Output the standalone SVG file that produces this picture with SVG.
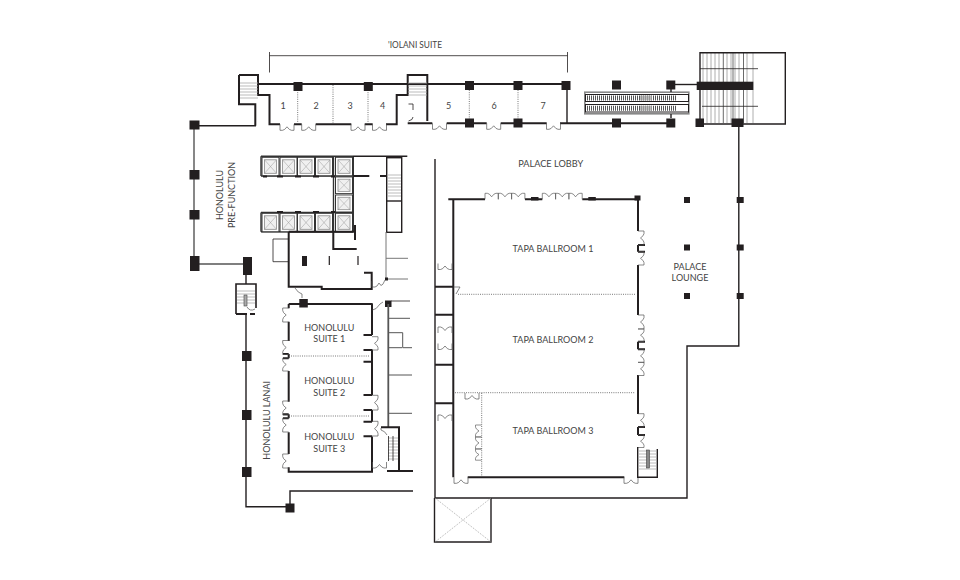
<svg xmlns="http://www.w3.org/2000/svg" xmlns:xlink="http://www.w3.org/1999/xlink" width="960" height="580" viewBox="0 0 960 580">
<style>
text{font-family:Lato,"Liberation Sans",Arial,sans-serif;font-size:9px;fill:#444;text-anchor:middle}
.w{fill:none;stroke:#231f20;stroke-width:2}
.m{fill:none;stroke:#231f20;stroke-width:1.4}
.t{fill:none;stroke:#231f20;stroke-width:.8}
.g{fill:none;stroke:#777;stroke-width:1}
.lg{fill:none;stroke:#aaa;stroke-width:.8}
.d{fill:none;stroke:#555;stroke-width:.8;stroke-dasharray:1 1.2}
.c{fill:#231f20}
.door{fill:none;stroke:#555;stroke-width:.7}
.el{fill:#fff;stroke:#333;stroke-width:1}
.in{fill:#f0f0f0;stroke:#888;stroke-width:.8}
.x{fill:none;stroke:#999;stroke-width:.5}
</style>
<defs>
<path id="door" class="door" d="M0 0V6H2.5Q4.5 6 7 2.5Q9.5 6 11.5 6H14V0"/>
<g id="elev"><rect class="el" x="0.500" y="0.500" width="17" height="18.500"/><rect class="in" x="3" y="3" width="12" height="13.500"/><path class="x" d="M3 3L15 16.500M15 3L3 16.500"/></g>
</defs>

<g id="iolani-suite">
<path class="t" d="M269.500 52V72.500M269.500 55.700H567.500M567.500 52V72.500"/>
<path class="w" d="M258 84H567"/>
<path class="w" d="M239 75H258V95H269.500V124.300H280M294 124.300H301.700M315.700 124.300H351.300M364.700 124.300H372.700M386 124.300H396.700V95H407.700V75H427.300V121M407.700 123.300H432.300M446.700 123.300H486.700M500.700 123.300H546.700M560 123.300H671"/>
<path class="w" d="M239 75V104.300H255.300V125.700"/>
<path class="m" d="M567 84V124"/>
<path class="d" d="M297.700 90V124M333 85V124M368 90V124M469.300 90V120M518 90V120"/>
<path class="lg" d="M240 83H258M240 86H258M240 89H258M240 92H258M240 95H258M240 98H258M408 83H427M408 86H427M408 89H427M408 92H427M408 95H427"/>
<path class="t" d="M413 110V104H408.500M408.500 121Q413 120 413 117"/>
<use xlink:href="#door" href="#door" x="280" y="124.300"/>
<use xlink:href="#door" href="#door" x="301.700" y="124.300"/>
<use xlink:href="#door" href="#door" x="351" y="124.300"/>
<use xlink:href="#door" href="#door" x="372.500" y="124.300"/>
<use xlink:href="#door" href="#door" x="432.500" y="123.300"/>
<use xlink:href="#door" href="#door" x="486.700" y="123.300"/>
<use xlink:href="#door" href="#door" x="546.500" y="123.300"/>
<rect class="c" x="293.500" y="82" width="9" height="9"/>
<rect class="c" x="363.800" y="82" width="9" height="9"/>
<rect class="c" x="465" y="81" width="9" height="9"/>
<rect class="c" x="513.500" y="81" width="9" height="9"/>
<rect class="c" x="561.500" y="81" width="9" height="9"/>
<rect class="c" x="465" y="118.500" width="9" height="9"/>
<rect class="c" x="513.500" y="118.500" width="9" height="9"/>
<text x="415" y="47.500" textLength="54" lengthAdjust="spacingAndGlyphs">'IOLANI SUITE</text>
<text x="283" y="109">1</text><text x="316" y="109">2</text><text x="350" y="109">3</text><text x="382.500" y="109">4</text><text x="448.700" y="109">5</text><text x="494" y="109">6</text><text x="543" y="109">7</text>
</g>

<g id="escalators">
<rect x="584.800" y="92.200" width="104" height="21.600" fill="#fff" stroke="#888" stroke-width="1.600"/>
<rect x="585.500" y="94.500" width="103" height="7" fill="#fff" stroke="#231f20" stroke-width="1"/>
<rect x="585.500" y="104.500" width="103" height="7.500" fill="#fff" stroke="#231f20" stroke-width="1"/>
<path stroke="#555" stroke-width="5" stroke-dasharray="1 1" fill="none" d="M587 98H677M587 108.200H677"/>
<path stroke="#aaa" stroke-opacity=".75" stroke-width="5" fill="none" d="M640 98H652M640 108.200H652"/>
<path class="m" d="M671 89V92M671 114V118"/>
<rect class="c" x="612" y="80.500" width="9" height="9"/>
<rect class="c" x="666.300" y="80.500" width="9" height="9"/>
<rect class="c" x="612" y="118.500" width="9" height="9"/>
<rect class="c" x="666.300" y="118.500" width="9" height="9"/>
<path class="m" d="M671 84.500H698"/>
</g>

<g id="grand-stair">
<path d="M703 53V123M707 53V123M711 53V123M715 53V123M719 53V123M727 53V123M731 53V123M735 53V123M739 53V123M747 53V123M753 53V123" fill="none" stroke="#999" stroke-width=".8"/>
<path d="M723.300 53V123M733 53V123M743.500 53V123" fill="none" stroke="#444" stroke-width=".8"/>
<path class="m" d="M700 124V52.700H785.300V124H700"/>
<path class="t" d="M700 68.700H758M702 106.300H758"/>
<rect class="c" x="696.700" y="81.700" width="56.600" height="8.300"/>
<rect class="c" x="695.500" y="118.500" width="8.500" height="8.500"/>
<rect class="c" x="731.500" y="118.500" width="12" height="8.500"/>
</g>

<g id="palace-lounge">
<path class="m" d="M738.800 124V346H687V498H435V159"/>
<rect class="c" x="736.700" y="197" width="7" height="6"/>
<rect class="c" x="736.700" y="244.500" width="7" height="6"/>
<rect class="c" x="736.700" y="293" width="7" height="6"/>
<rect class="c" x="684" y="197" width="6" height="6"/>
<rect class="c" x="684" y="244.500" width="6" height="6"/>
<rect class="c" x="684" y="293" width="6" height="6"/>
<text x="690" y="270">PALACE</text><text x="690" y="281">LOUNGE</text>
<text x="550.700" y="166.500" textLength="65" lengthAdjust="spacingAndGlyphs">PALACE LOBBY</text>
<path class="m" d="M434.500 498V542H491V498"/>
<path class="d" style="stroke:#999" d="M435 498L491 542M491 498L435 542"/>
</g>

<g id="tapa-ballroom">
<path class="w" d="M448.300 199.300H485M525 199.300H542.300M582.300 199.300H638V231M638 245V251.700M645 245H638M645 251.700H638M638 265V315M638 341.700V349.300M645 341.700H638M645 349.300H638M638 375V414M638 427V435M645 427H638M645 435H638M453.300 199.300V477.300"/>
<path class="w" d="M467.700 477.300H624.300"/>
<path class="w" d="M435 286.700H453M435 314.700H453M435 364.700H453M435 403.300H453"/>
<rect class="c" x="531" y="197" width="7.500" height="3.500"/>
<rect class="c" x="588.300" y="197" width="7.500" height="3.500"/>
<rect class="c" x="634.500" y="195.500" width="6" height="5"/>
<path class="d" d="M458 294.300H635M455 392.700H635M481.700 393V477"/>
<path class="door" d="M453.500 287H460L456 294"/>
<g transform="translate(485 199.300) scale(.95 -1)"><use xlink:href="#door" href="#door"/><use xlink:href="#door" href="#door" x="14"/><use xlink:href="#door" href="#door" x="28"/></g>
<g transform="translate(542.300 199.300) scale(.95 -1)"><use xlink:href="#door" href="#door"/><use xlink:href="#door" href="#door" x="14"/><use xlink:href="#door" href="#door" x="28"/></g>
<use xlink:href="#door" href="#door" transform="translate(638 245) rotate(-90)"/>
<use xlink:href="#door" href="#door" transform="translate(638 265) rotate(-90) scale(.95 1)"/>
<use xlink:href="#door" href="#door" transform="translate(638 329) rotate(-90)"/>
<use xlink:href="#door" href="#door" transform="translate(638 341.500) rotate(-90) scale(.9 1)"/>
<use xlink:href="#door" href="#door" transform="translate(638 362.500) rotate(-90) scale(.95 1)"/>
<use xlink:href="#door" href="#door" transform="translate(638 375.500) rotate(-90) scale(.95 1)"/>
<use xlink:href="#door" href="#door" transform="translate(638 427) rotate(-90) scale(.95 1)"/>
<use xlink:href="#door" href="#door" transform="translate(638 447.500) rotate(-90) scale(.9 1)"/>
<use xlink:href="#door" href="#door" x="454" y="477.300"/>
<use xlink:href="#door" href="#door" x="624" y="477.300"/>
<use xlink:href="#door" href="#door" transform="translate(465 393)"/>
<use xlink:href="#door" href="#door" transform="translate(481.500 425) rotate(90) scale(.85 1)"/>
<use xlink:href="#door" href="#door" transform="translate(481.500 437) rotate(90) scale(.85 1)"/>
<use xlink:href="#door" href="#door" transform="translate(481.500 449) rotate(90) scale(.8 1)"/>
<use xlink:href="#door" href="#door" transform="translate(438 263.500)"/>
<use xlink:href="#door" href="#door" transform="translate(438 333) scale(1 -1)"/>
<use xlink:href="#door" href="#door" transform="translate(438 343.500)"/>
<use xlink:href="#door" href="#door" transform="translate(438 421) scale(1 -1)"/>
<path class="m" d="M637.700 447V477.300H657.300V449"/>
<path class="lg" d="M638 451H657M638 454H657M638 457H657M638 460H657M638 463H657M638 466H657M638 469H657"/>
<rect x="646.500" y="450" width="3" height="18" fill="#888" stroke="#444" stroke-width=".6"/>
<text x="553" y="251.500">TAPA BALLROOM 1</text>
<text x="553" y="342.500">TAPA BALLROOM 2</text>
<text x="553" y="433.500">TAPA BALLROOM 3</text>
</g>

<g id="honolulu-prefunction">
<path class="m" d="M194 125.700H256"/>
<path class="m" d="M194 125V264H245" style="stroke:#555"/>
<rect class="c" x="189.500" y="120.500" width="10" height="9"/>
<rect class="c" x="189.500" y="170" width="10" height="9.500"/>
<rect class="c" x="189.500" y="210" width="10" height="9.500"/>
<rect class="c" x="190" y="256" width="9.500" height="15"/>
<rect class="c" x="243" y="257" width="9" height="18"/>
<text transform="translate(223 195) rotate(-90)">HONOLULU</text>
<text transform="translate(235 195) rotate(-90)">PRE-FUNCTION</text>
</g>

<g id="elevators">
<path d="M261 156.300H353M261 176H353M261 212.500H353M261 231.700H353M333.500 156.300V232M353.300 156.300V232M261 156.300V176M261 212.500V231.700" fill="none" stroke="#333" stroke-width="1.400"/>
<use xlink:href="#elev" href="#elev" x="261.500" y="156.800"/><use xlink:href="#elev" href="#elev" x="279.500" y="156.800"/><use xlink:href="#elev" href="#elev" x="297" y="156.800"/><use xlink:href="#elev" href="#elev" x="315" y="156.800"/><use xlink:href="#elev" href="#elev" x="335" y="156.800"/>
<use xlink:href="#elev" href="#elev" transform="translate(335 176.500) scale(1 .9)"/><use xlink:href="#elev" href="#elev" transform="translate(335 194.500) scale(1 .92)"/><use xlink:href="#elev" href="#elev" x="335" y="212.800"/>
<use xlink:href="#elev" href="#elev" x="261.500" y="212.800"/><use xlink:href="#elev" href="#elev" x="279.500" y="212.800"/><use xlink:href="#elev" href="#elev" x="297" y="212.800"/><use xlink:href="#elev" href="#elev" x="315" y="212.800"/>
<path class="w" d="M263 176.500H267M277 176.500H283M295 176.500H301M313 176.500H319M331 176.500H335M277 212H283M295 212H301M313 212H319M331 212H335"/>
<path class="m" d="M353 156.300H407.300"/>
<path class="w" d="M353 176H369.300M380 176H386.700"/>
<rect x="386.700" y="157.700" width="15" height="74.600" fill="#fff" stroke="#231f20" stroke-width="1.400"/>
<path class="m" d="M386.700 201H401.700"/>
<path class="lg" d="M387 175H401M387 178H401M387 181H401M387 184H401M387 187H401M387 190H401M387 193H401M387 196H401"/>
<path class="w" d="M288.700 231.700H355M355 225V240M333.300 232V249H356.700M288.700 232V286.700H321.700V289H371.700V272.700H364"/>
<path class="t" d="M288.700 239H273V261.700H288.700"/>
<rect class="c" x="302" y="256" width="5" height="10"/>
<path class="w" style="stroke-width:1.200" d="M329.300 256V265M358 256V265"/>
<path class="g" d="M386 232V278M386 258.300H408M386 279H408"/>
<rect class="c" x="385" y="277.500" width="3" height="3"/>
<path class="door" d="M372 281V287H375Q377 287 379 283Q381 287 383 284L385 280"/>
<path class="door" d="M295 288Q298 293 302 294L302 298"/>
</g>

<g id="honolulu-lanai">
<path d="M236 314V284H256V308" fill="none" stroke="#231f20" stroke-width="1.600"/>
<path class="w" d="M236 314H247M250 314H255"/>
<path class="m" d="M246 275V284"/>
<path class="lg" d="M237 291H255M237 294H255M237 297H255M237 300H255M237 303H255"/>
<rect x="244" y="295" width="3" height="11" fill="#aaa" stroke="#444" stroke-width=".6"/>
<path class="door" d="M247 307Q250 312 255 309"/>
<path class="m" d="M246 314V506.700H290V491H413"/>
<rect class="c" x="242" y="351" width="9.500" height="10"/>
<rect class="c" x="242" y="410" width="9.500" height="10"/>
<rect class="c" x="242" y="467" width="9.500" height="10"/>
<rect class="c" x="285.500" y="503.500" width="9" height="9"/>
<text transform="translate(270 420.300) rotate(-90)">HONOLULU LANAI</text>
</g>

<g id="honolulu-suites">
<path class="w" d="M288.700 304H372.700M288.700 304V308.300M288.700 321.700V341M288.700 354V358.300M288.700 371V401.700M288.700 414.300V418.300M288.700 432.300V454M288.700 467.300V471.700H372V436.500M372 421.700V410M372 395V349.500M372 335V304"/>
<path class="w" d="M363.500 335H372M363.500 350H372M363.500 361.700H372M363.500 395H372M363.500 410H372M363.500 421.700H372M363.500 436.300H372M283 354H288.700M283 358.300H288.700M283 414.300H288.700M283 418.300H288.700"/>
<path class="d" d="M291 356H370M291 416H370"/>
<rect class="c" x="299.300" y="299" width="8.500" height="8.500"/>
<use xlink:href="#door" href="#door" transform="translate(288.700 308) rotate(90)"/>
<use xlink:href="#door" href="#door" transform="translate(288.700 340.500) rotate(90)"/>
<use xlink:href="#door" href="#door" transform="translate(288.700 358) rotate(90) scale(.93 1)"/>
<use xlink:href="#door" href="#door" transform="translate(288.700 401) rotate(90)"/>
<use xlink:href="#door" href="#door" transform="translate(288.700 418) rotate(90)"/>
<use xlink:href="#door" href="#door" transform="translate(288.700 454) rotate(90)"/>
<use xlink:href="#door" href="#door" transform="translate(372 350) rotate(-90) scale(.95 1)"/>
<use xlink:href="#door" href="#door" transform="translate(372 410) rotate(-90) scale(1.050 1)"/>
<use xlink:href="#door" href="#door" transform="translate(372 436) rotate(-90) scale(1.050 1)"/>
<use xlink:href="#door" href="#door" x="372.500" y="462"/>
<path class="door" d="M372.500 310Q376 310 380 304L383 302"/>
<rect class="c" x="385" y="300.500" width="6.500" height="6.500"/>
<path d="M388.300 304V427.300" fill="none" stroke="#555" stroke-width="1.800"/>
<path class="w" d="M381 427.300H399V470.700"/>
<path class="w" d="M387 471H413"/>
<path class="g" style="stroke:#555" d="M388 318.300H410M388 332.700H402.700V347.700H412M388 347.700H402M388 375H412M388 413.300H412"/>
<path class="t" d="M391 301H410"/>
<path class="lg" d="M388 438H398M388 441H398M388 444H398M388 447H398M388 450H398M388 453H398M388 456H398M388 459H398"/>
<path class="t" d="M388.500 436V461M393 436V461"/>
<path class="door" d="M381 428V430Q385 431 387 435"/>
<text x="329.300" y="330.500">HONOLULU</text><text x="329.300" y="342">SUITE 1</text>
<text x="329.300" y="384">HONOLULU</text><text x="329.300" y="395.500">SUITE 2</text>
<text x="329.300" y="440">HONOLULU</text><text x="329.300" y="451.500">SUITE 3</text>
</g>
</svg>
